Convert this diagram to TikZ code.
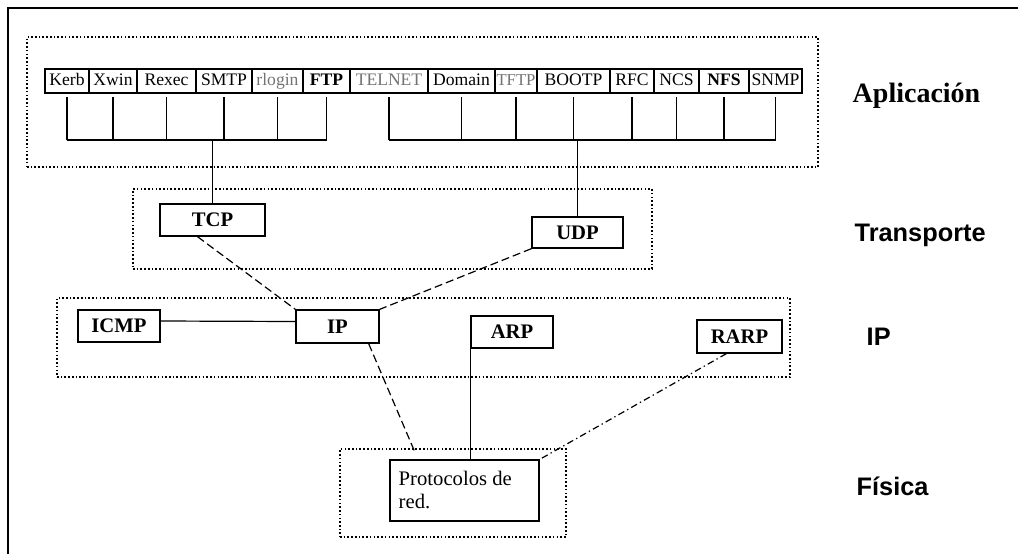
\documentclass[tikz,border=0pt]{standalone}
\usepackage{fontspec}
\setmainfont{Liberation Serif}
\setsansfont{Liberation Sans}
\usetikzlibrary{calc}

\tikzset{
  cell/.style={draw, line width=0.8pt, inner sep=0pt, minimum height=18pt,
               text height=9.2pt, text depth=2.6pt,
               font=\fontsize{13.2}{14}\selectfont},
  faded/.style={text=black!55},
  proto/.style={draw, line width=1pt, inner sep=0pt, text height=10.3pt, text depth=0pt,
                font=\fontsize{15.5}{17}\selectfont\bfseries},
  layer/.style={draw, line width=1.5pt, dash pattern=on 1.2pt off 1.6pt, inner sep=0pt},
  wire/.style={line width=0.9pt},
  dashwire/.style={line width=0.9pt, dash pattern=on 6pt off 3pt},
  dotdash/.style={line width=0.9pt, dash pattern=on 5pt off 2.5pt on 1pt off 2.5pt},
  serifname/.style={anchor=base west, font=\fontsize{21}{24}\selectfont\bfseries},
  sansname/.style={anchor=base west, font=\sffamily\fontsize{19}{22}\selectfont\bfseries},
}

\begin{document}
\begin{tikzpicture}[x=0.75pt, y=-0.75pt]
\useasboundingbox (0,0) rectangle (1018,554);

% page frame
\draw[line width=1.8pt] (8,554) -- (8,8) -- (1018,8);

% layer frames
\node[layer, minimum width=593.25pt, minimum height=97.5pt] (app)   at (422.5,102) {};
\node[layer, minimum width=389.25pt, minimum height=60pt]   (trans) at (392.5,229) {};
\node[layer, minimum width=549.75pt, minimum height=59.25pt] (ipl)  at (423.5,337.5) {};
\node[layer, minimum width=169.5pt, minimum height=66pt]    (fis)   at (453,493) {};

% application protocols
\node[cell, minimum width=33pt]    (kerb)   at (67,81)    {Kerb};
\node[cell, minimum width=36pt]    (xwin)   at (113,81)   {Xwin};
\node[cell, minimum width=44.25pt] (rexec)  at (166.5,81) {Rexec};
\node[cell, minimum width=42pt]    (smtp)   at (224,81)   {SMTP};
\node[cell, faded, minimum width=38.25pt] (rlogin) at (277.5,81) {rlogin};
\node[cell, minimum width=35.25pt, font=\fontsize{13.2}{14}\selectfont\bfseries] (ftp) at (326.5,81) {FTP};
\node[cell, faded, minimum width=58.5pt]  (telnet) at (389,81)   {TELNET};
\node[cell, minimum width=50.25pt] (domain) at (461.5,81) {Domain};
\node[cell, faded, minimum width=31.5pt, font=\fontsize{12.5}{14}\selectfont] (tftp) at (516,81) {TFTP};
\node[cell, minimum width=54.75pt] (bootp)  at (573.5,81) {BOOTP};
\node[cell, minimum width=33pt]    (rfc)    at (632,81)   {RFC};
\node[cell, minimum width=33.75pt] (ncs)    at (676.5,81) {NCS};
\node[cell, minimum width=37.5pt, font=\fontsize{13.2}{14}\selectfont\bfseries] (nfs) at (724,81) {NFS};
\node[cell, minimum width=39.75pt] (snmp)   at (775.5,81) {SNMP};

% transport, internet and network nodes
\node[proto, minimum width=78.75pt, minimum height=24pt]    (tcp)  at (212.5,220)   {TCP};
\node[proto, minimum width=68.25pt, minimum height=23.25pt] (udp)  at (577.5,232.5) {UDP};
\node[proto, minimum width=61.5pt,  minimum height=24pt]    (icmp) at (119,326)     {ICMP};
\node[proto, minimum width=62.25pt, minimum height=24.75pt] (ip)   at (337.5,326.5) {IP};
\node[proto, minimum width=61.5pt,  minimum height=24pt]    (arp)  at (512,332)     {ARP};
\node[proto, minimum width=63.75pt, minimum height=24.75pt] (rarp) at (739.5,336.5) {RARP};
\node[draw, line width=0.8pt, inner sep=0pt, minimum width=111.75pt, minimum height=45.75pt]
      (red) at (464.5,490.5) {};
\node[anchor=north west, inner sep=0pt, align=left,
      font=\fontsize{15.5}{17.5}\selectfont] (redtxt) at ($(red.north west)+(9,11)$)
      {Protocolos de\\red.};

% buses from the application protocols
\coordinate (bustop) at (0,97);
\coordinate (bus)    at (0,140);
\foreach \c in {kerb,xwin,rexec,smtp,rlogin,ftp,telnet,domain,tftp,bootp,rfc,ncs,nfs,snmp}
  \draw[wire] (\c.south |- bustop) -- (\c.south |- bus);
\draw[wire] (kerb.south |- bus) -- (ftp.south |- bus);
\draw[wire] (telnet.south |- bus) -- (snmp.south |- bus);
\draw[wire] (tcp.north |- bus) -- (tcp.north);
\draw[wire] (udp.north |- bus) -- (udp.north);

% links between the lower layers
\draw[dashwire] ($(tcp.south)+(-15,0)$) -- (ip.north west);
\draw[dashwire] (udp.south west) -- (ip.north east);
\draw[wire] ($(icmp.east)+(0,-5)$) -- ($(ip.west)+(0,-5)$);
\draw[dashwire] ($(ip.south east)+(-11,0)$) -- ($(red.north west)+(26,-6)$);
\draw[wire] (arp.south west) -- (arp.south west |- red.north);
\draw[dotdash] ($(rarp.south west)+(30,0)$) -- (red.north east);

% layer names
\node[serifname] (lapp)   at (848,102) {Aplicación};
\node[sansname]  (ltrans) at (850,241) {Transporte};
\node[sansname]  (lip)    at (862,345) {IP};
\node[sansname]  (lfis)   at (852,495) {Física};
\end{tikzpicture}
\end{document}
